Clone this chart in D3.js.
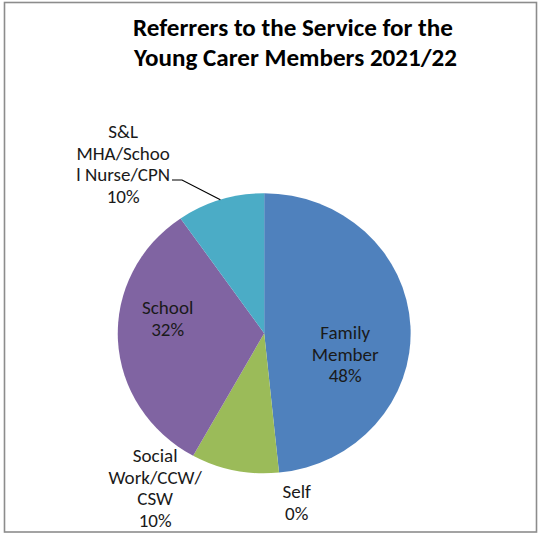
<!DOCTYPE html>
<html>
<head>
<meta charset="utf-8">
<script src="https://cdn.jsdelivr.net/npm/d3@7"></script>
<style>
  html, body { margin: 0; padding: 0; background: #fff; }
  svg { display: block; }
</style>
</head>
<body>
<svg id="chart" width="539" height="535"></svg>
<script>
// Referral sources (number of young carer members referred, 2021/22)
const categories = ["Family Member", "Self", "Social Work/CCW/CSW", "School", "S&L MHA/School Nurse/CPN"];
const referrals = [15, 0, 3, 10, 3];
// Label text lines as wrapped in the chart
const labelLines = [
  ["Family", "Member"],
  ["Self"],
  ["Social", "Work/CCW/", "CSW"],
  ["School"],
  ["S&L", "MHA/Schoo", "l Nurse/CPN"]
];
const titleLines = ["Referrers to the Service for the", "Young Carer Members 2021/22"];
const sliceColors = ["#4F81BD", "#C0504D", "#9BBB59", "#8064A2", "#4BACC6"];

// Layout
const W = 539, H = 535;
const cx = 264.2, cy = 333.3;
const rY = 140, stretchX = 1.046;          // pie drawn slightly wider than tall
const lineGap = 21.7;
// label block centres relative to pie centre (x centre, first baseline)
const labelPlacement = [
  { dx: 81, y0: 339 },
  { dx: 32.5, y0: 498 },
  { dx: -109, y0: 462 },
  { dx: -96.5, y0: 314 },
  { dx: -141, y0: 138 }
];

const svg = d3.select("#chart");
const font = "Calibri, Carlito, Lato, 'Liberation Sans', sans-serif";

// chart frame
svg.append("rect")
  .attr("x", 4.5).attr("y", 2.5)
  .attr("width", 532).attr("height", 529.5)
  .attr("fill", "#fff")
  .attr("stroke", "#8c8c8c").attr("stroke-width", 1.6);

// fit text helper: size a text element so it spans the given width
function fitWidth(sel, targetW, baseSize) {
  sel.attr("font-size", baseSize);
  const w = sel.node().getComputedTextLength();
  sel.attr("font-size", baseSize * targetW / w);
  return baseSize * targetW / w;
}

// Title
const t1 = svg.append("text")
  .attr("x", 293).attr("y", 35.5)
  .attr("text-anchor", "middle")
  .attr("font-family", font).attr("font-weight", "bold")
  .attr("fill", "#000")
  .text(titleLines[0]);
const titleSize = fitWidth(t1, 320, 20);
svg.append("text")
  .attr("x", 295.5).attr("y", 66)
  .attr("text-anchor", "middle")
  .attr("font-family", font).attr("font-weight", "bold")
  .attr("font-size", titleSize)
  .attr("fill", "#000")
  .text(titleLines[1]);

// Pie
const pie = d3.pie().sort(null).value(d => d)(referrals);
const arc = d3.arc().innerRadius(0).outerRadius(rY);

const g = svg.append("g")
  .attr("transform", `translate(${cx},${cy}) scale(${stretchX},1)`);

g.selectAll("path.slice")
  .data(pie)
  .join("path")
  .attr("class", "slice")
  .attr("d", arc)
  .attr("fill", (d, i) => sliceColors[i])
  .attr("stroke", "none");

// Labels
const total = d3.sum(referrals);
const pct = v => Math.round(v / total * 100) + "%";

// measure label size from "Family" width
const probe = svg.append("text")
  .attr("font-family", font)
  .text("Family");
const labelSize = fitWidth(probe, 50, 16);
probe.remove();

categories.forEach((c, i) => {
  const lines = labelLines[i].concat([pct(referrals[i])]);
  const p = labelPlacement[i];
  const t = svg.append("text")
    .attr("text-anchor", "middle")
    .attr("font-family", font)
    .attr("font-size", labelSize)
    .attr("fill", "#1a1a1a");
  lines.forEach((ln, k) => {
    t.append("tspan")
      .attr("x", cx + p.dx)
      .attr("y", p.y0 + k * lineGap)
      .text(ln);
  });
});

// Leader line for the S&L label to its slice edge
const tealSlice = pie[4];
const mid = (tealSlice.startAngle + tealSlice.endAngle) / 2;
const ex = cx + Math.sin(mid) * rY * stretchX;
const ey = cy - Math.cos(mid) * rY;
svg.append("polyline")
  .attr("points", `172,180 182,180 ${ex},${ey}`)
  .attr("fill", "none")
  .attr("stroke", "#000")
  .attr("stroke-width", 1.2);
</script>
</body>
</html>
